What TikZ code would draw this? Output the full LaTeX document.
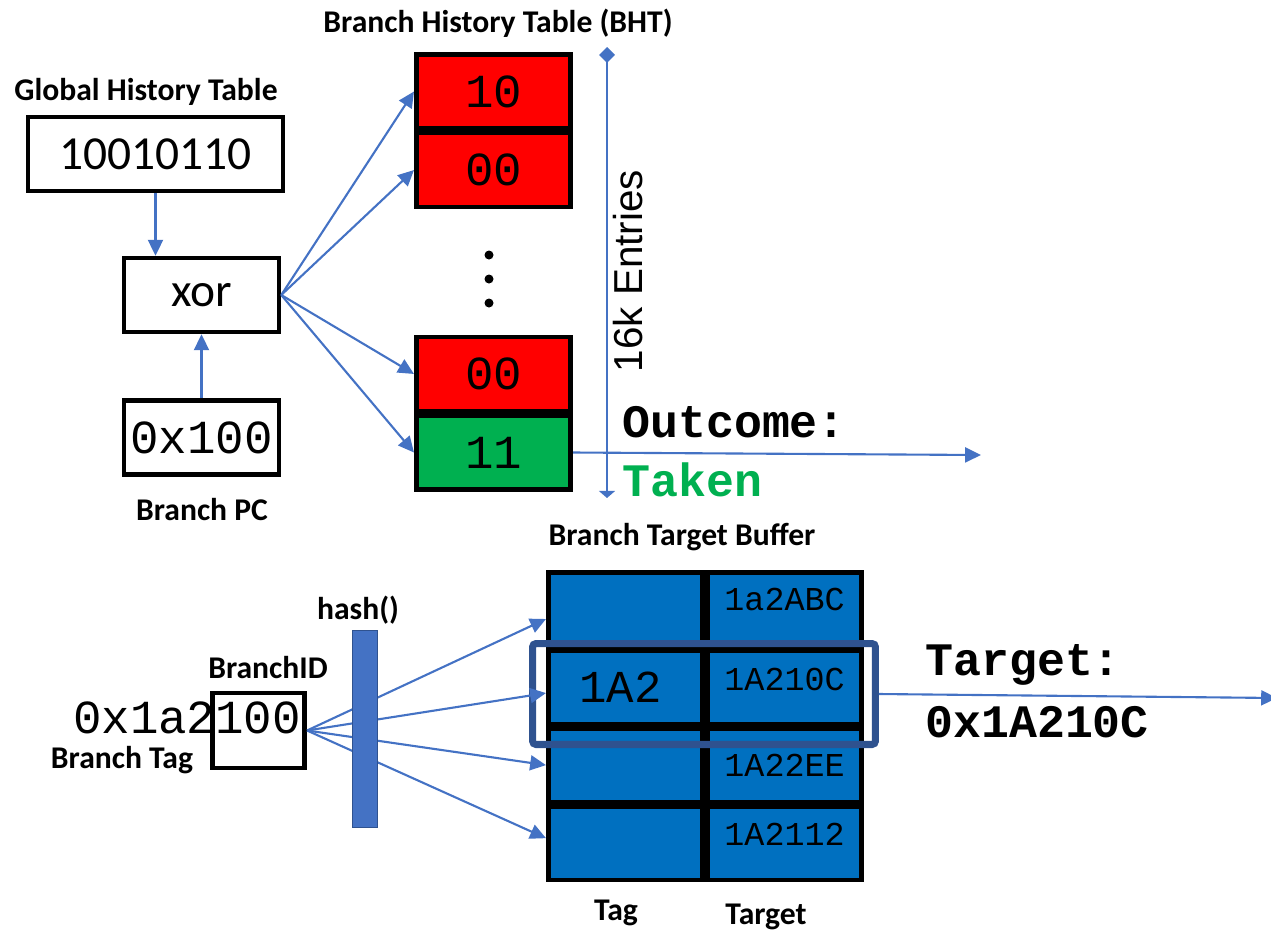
\documentclass[tikz,border=0pt]{standalone}
\usepackage{fontspec}
\setmainfont{Carlito}
\setmonofont{Liberation Mono}
\newfontfamily\entriesfont{Liberation Sans}
\usetikzlibrary{positioning,arrows.meta}
\definecolor{arrowblue}{RGB}{68,114,196}
\definecolor{cellred}{RGB}{255,0,0}
\definecolor{cellgreen}{RGB}{0,176,80}
\definecolor{btbblue}{RGB}{0,112,192}
\definecolor{selblue}{RGB}{47,82,143}

\begin{document}
\begin{tikzpicture}[x=0.02cm,y=-0.02cm,
    link/.style={-{Triangle[length=9pt,width=8.5pt]},draw=arrowblue,line width=1.2pt},
    box node/.style={draw,line width=2.6pt,inner sep=0pt,minimum height=1.48cm},
    bht node/.style={box node,minimum width=3.09cm,font=\ttfamily\fontsize{27}{30}\selectfont},
    btb node/.style={draw,line width=2.6pt,fill=btbblue,inner sep=0pt,minimum width=3.09cm,minimum height=1.47cm},
    title node/.style={font=\bfseries\fontsize{18}{20}\selectfont},
    big mono/.style={anchor=west,inner sep=0pt,font=\ttfamily\bfseries\fontsize{26.5}{30}\selectfont},
    cell mono/.style={font=\ttfamily\fontsize{19}{22}\selectfont}]
    \useasboundingbox (0,0) rectangle (1271,934);

    % global history and xor
    \node[title node] (ghttitle) at (146,92) {Global History Table};
    \node[box node,minimum width=5.1cm,font=\fontsize{27}{30}\selectfont] (ght) at (155.5,154) {10010110};
    \node[box node,minimum width=3.1cm,font=\fontsize{27}{30}\selectfont] (xor) at (201.5,295) {xor};
    \node[box node,minimum width=3.1cm,font=\ttfamily\fontsize{27}{30}\selectfont] (pc) at (201.5,437.5) {0x100};
    \node[title node] (pclabel) at (202,510) {Branch PC};

    % branch history table
    \node[title node] (bhttitle) at (498,23) {Branch History Table (BHT)};
    \node[bht node,fill=cellred] (e1) at (493.5,91.5) {10};
    \node[bht node,fill=cellred] (e2) [below=0pt of e1] {00};
    \node[bht node,fill=cellgreen] (e4) at (493.5,452.5) {11};
    \node[bht node,fill=cellred] (e3) [above=0pt of e4] {00};
    \foreach \y in {255,279,303}
        \fill (489,\y) circle (0.09cm);

    \coordinate (etop) at (607,47);
    \coordinate (ebot) at (607,498);
    \draw[arrowblue,line width=1.2pt,{Diamond[length=9pt,width=9pt]}-{Triangle[length=4pt,width=9pt]}] (etop) -- (ebot);
    \node[rotate=90,font=\entriesfont\fontsize{23}{26}\selectfont] (entries) at (628,271) {16k Entries};

    \node[big mono] (outcome) at (622,422) {Outcome:};
    \node[big mono,text=cellgreen] (taken) at (622,480) {Taken};

    \path[every edge/.style={link}]
        (ght.south) edge (ght.south |- xor.north)
        (pc.north) edge (xor.south)
        (xor.east) edge (e1.west)
        (xor.east) edge (e2.west)
        (xor.east) edge (e3.west)
        (xor.east) edge (e4.west);
    \coordinate (outend) at (981,455);
    \draw[link] (e4.east) -- (outend);

    % branch target buffer
    \node[title node] (btbtitle) at (682,537) {Branch Target Buffer};
    \node[btb node] (t1) at (625.5,609) {};
    \node[btb node] (g1) [right=0pt of t1] {};
    \node[btb node] (t2) [below=0pt of t1] {};
    \node[btb node] (g2) [right=0pt of t2] {};
    \node[btb node] (t3) [below=0pt of t2] {};
    \node[btb node] (g3) [right=0pt of t3] {};
    \node[btb node] (t4) [below=0pt of t3] {};
    \node[btb node] (g4) [right=0pt of t4] {};
    \node[cell mono] (a1) at ([yshift=0.2cm]g1.center) {1a2ABC};
    \node[cell mono] (a2) at ([yshift=0.16cm]g2.center) {1A210C};
    \node[cell mono] (a3) at (g3.center) {1A22EE};
    \node[cell mono] (a4) at ([yshift=0.18cm]g4.center) {1A2112};
    \node[font=\ttfamily\fontsize{26}{28}\selectfont] (tag2) at ([xshift=-0.1cm]t2.center) {1A2};
    \node[draw=selblue,line width=4pt,rounded corners=2pt,minimum width=6.86cm,minimum height=2.02cm] (sel) at (704,694) {};
    \node[title node] (taglabel) at (616,913) {Tag};
    \node[title node] (targetlabel) at (766,917) {Target};

    % branch tag and hash
    \node[box node,minimum width=1.85cm,minimum height=1.5cm] (bid) at (258.5,730.5) {};
    \node[font=\ttfamily\fontsize{27}{30}\selectfont] (tagtext) at (187,718) {0x1a2100};
    \node[title node] (bidlabel) at (268,668) {BranchID};
    \node[title node] (taglabel2) at (122,760) {Branch Tag};
    \path[every edge/.style={link}]
        (bid.east) edge ([yshift=-0.2cm]t1.west)
        (bid.east) edge ([yshift=-0.12cm]t2.west)
        (bid.east) edge (t3.west)
        (bid.east) edge ([yshift=0.1cm]t4.west);
    \node[fill=arrowblue,draw=selblue,line width=0.8pt,inner sep=0pt,minimum width=0.5cm,minimum height=3.94cm] (hash) at (365,729) {};
    \node[title node] (hashlabel) at (358,610) {hash()};

    \node[big mono] (tgt) at (925,665) {Target:};
    \node[big mono] (tgtval) at (925,722) {0x1A210C};
    \coordinate (tgtend) at (1277,698);
    \draw[link] (sel.east) -- (tgtend);
\end{tikzpicture}
\end{document}
